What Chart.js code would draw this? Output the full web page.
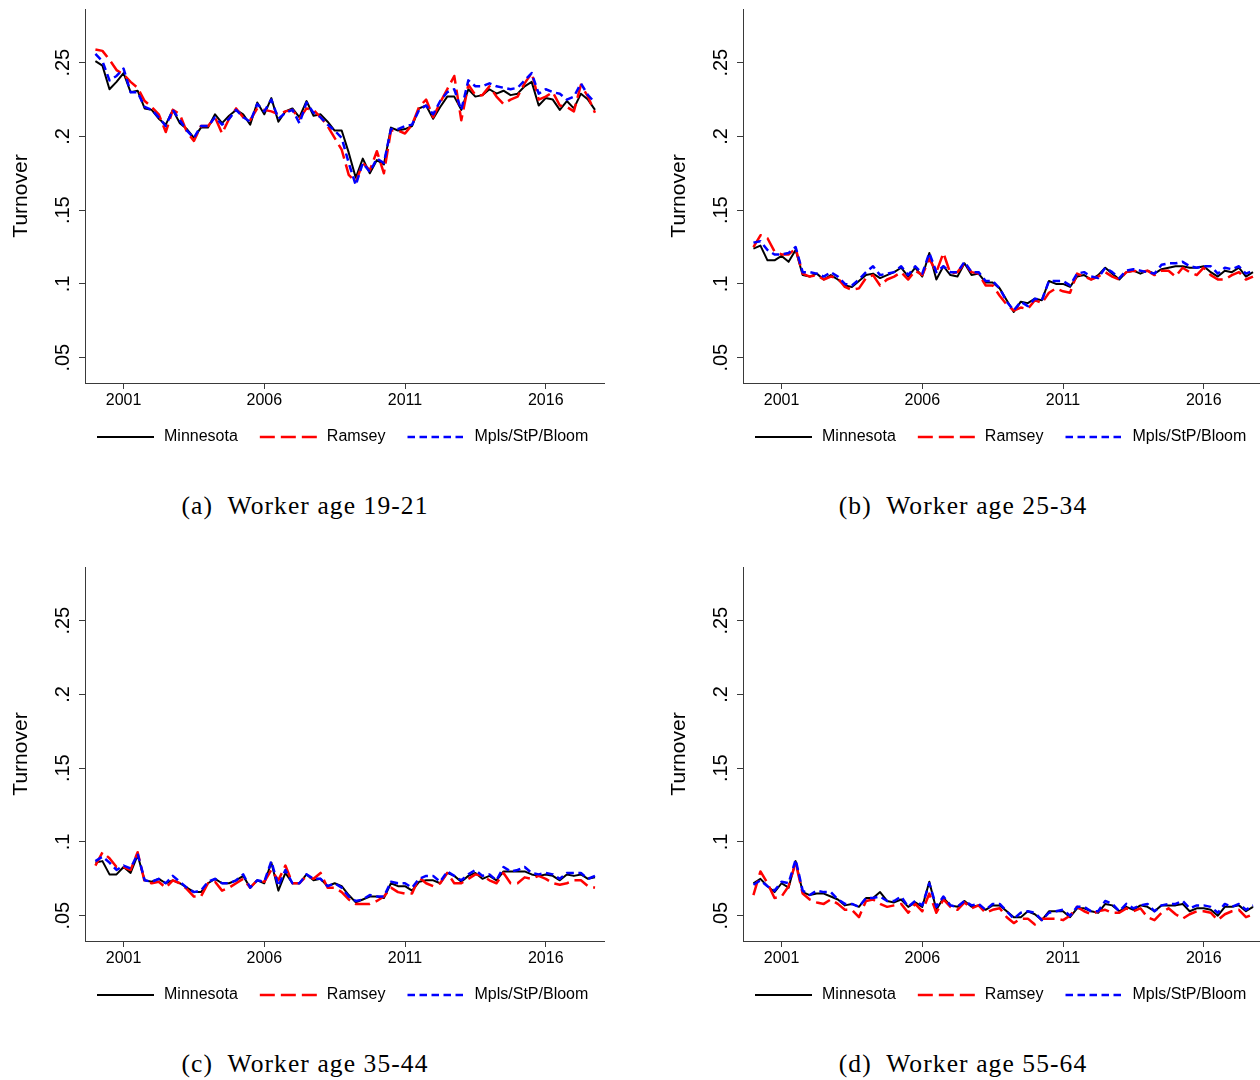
<!DOCTYPE html>
<html>
<head>
<meta charset="utf-8">
<script src="https://cdn.jsdelivr.net/npm/chart.js@4.4.1/dist/chart.umd.min.js"></script>
<style>
  html, body { margin: 0; padding: 0; background: #fff; }
  body { width: 1260px; height: 1080px; position: relative; overflow: hidden; }
  .panel { position: absolute; width: 620px; height: 470px; }
  .panel canvas { display: block; }
  .caption {
    position: absolute; width: 620px; text-align: center;
    font-family: "Liberation Serif", "Times New Roman", serif;
    font-size: 25.5px; line-height: 30px; letter-spacing: 1.1px; color: #000;
  }
</style>
</head>
<body>
<div class="panel" style="left:0px;top:0px"><canvas id="chartA" width="620" height="470"></canvas></div>
<div class="panel" style="left:658px;top:0px"><canvas id="chartB" width="620" height="470"></canvas></div>
<div class="panel" style="left:0px;top:558px"><canvas id="chartC" width="620" height="470"></canvas></div>
<div class="panel" style="left:658px;top:558px"><canvas id="chartD" width="620" height="470"></canvas></div>

<div class="caption" style="left:-5px;top:491px">(a)&nbsp; Worker age 19-21</div>
<div class="caption" style="left:653px;top:491px">(b)&nbsp; Worker age 25-34</div>
<div class="caption" style="left:-5px;top:1049px">(c)&nbsp; Worker age 35-44</div>
<div class="caption" style="left:653px;top:1049px">(d)&nbsp; Worker age 55-64</div>

<script>
// quarterly observations, 2000q1 .. 2017q4
const quarters = [];
for (let yr = 2000; yr <= 2017; yr++) {
    for (let q = 0; q < 4; q++) quarters.push(yr + q / 4);
}

const xTickYears = [2001, 2006, 2011, 2016];
const yTickValues = [0.05, 0.1, 0.15, 0.2, 0.25];
const yTickLabels = ['.05', '.1', '.15', '.2', '.25'];
const seriesNames = ['Minnesota', 'Ramsey', 'Mpls/StP/Bloom'];

// (a) Worker age 19-21
const mnA = [
    .251, .248, .232, .237, .243, .230, .231, .219, .218, .212, .208, .218,
    .209, .205, .199, .206, .206, .215, .209, .214, .218, .215, .208, .223,
    .215, .226, .210, .217, .219, .213, .224, .214, .215, .210, .204, .204,
    .189, .172, .185, .175, .184, .181, .206, .204, .205, .207, .219, .221,
    .212, .220, .227, .227, .218, .232, .227, .228, .232, .229, .231, .228,
    .229, .234, .237, .221, .226, .225, .218, .224, .219, .229, .225, .218
];
const ramA = [
    .259, .258, .252, .245, .242, .237, .233, .224, .220, .215, .203, .218,
    .215, .203, .197, .207, .207, .213, .202, .212, .219, .213, .211, .219,
    .218, .217, .215, .217, .218, .212, .219, .218, .213, .207, .199, .191,
    .174, .169, .182, .177, .190, .175, .204, .204, .202, .208, .220, .225,
    .213, .223, .232, .241, .211, .235, .228, .228, .234, .227, .222, .225,
    .227, .236, .243, .225, .227, .230, .221, .220, .217, .235, .227, .216
];
const mspA = [
    .256, .251, .238, .241, .246, .230, .230, .220, .218, .213, .207, .218,
    .211, .204, .199, .207, .207, .213, .208, .212, .218, .213, .210, .222,
    .217, .225, .212, .216, .218, .209, .223, .216, .213, .208, .204, .199,
    .182, .167, .182, .176, .185, .182, .205, .205, .207, .208, .218, .221,
    .215, .224, .230, .232, .218, .238, .234, .234, .236, .234, .233, .232,
    .233, .238, .243, .229, .232, .230, .229, .225, .227, .236, .228, .223
];

// (b) Worker age 25-34
const mnB = [
    .124, .126, .116, .116, .119, .115, .123, .106, .105, .107, .103, .106,
    .103, .099, .098, .102, .106, .107, .104, .106, .108, .111, .105, .111,
    .105, .121, .103, .112, .106, .105, .114, .106, .107, .101, .101, .097,
    .089, .081, .088, .087, .090, .089, .102, .100, .100, .098, .105, .106,
    .103, .106, .111, .107, .103, .108, .109, .107, .109, .107, .110, .111,
    .112, .112, .111, .111, .112, .108, .105, .109, .108, .111, .105, .108
];
const ramB = [
    .125, .133, .131, .122, .120, .120, .124, .107, .105, .106, .103, .105,
    .104, .098, .096, .097, .104, .106, .099, .103, .105, .108, .103, .109,
    .106, .117, .108, .121, .107, .108, .114, .108, .107, .099, .099, .092,
    .086, .082, .084, .083, .089, .087, .094, .097, .095, .094, .107, .105,
    .103, .105, .108, .105, .103, .108, .109, .108, .109, .106, .109, .109,
    .105, .111, .108, .106, .111, .106, .103, .103, .106, .108, .103, .105
];
const mspB = [
    .128, .129, .123, .120, .120, .121, .125, .108, .108, .107, .105, .108,
    .105, .100, .099, .103, .108, .112, .106, .107, .108, .112, .106, .112,
    .107, .121, .108, .112, .108, .108, .115, .108, .108, .102, .102, .097,
    .088, .082, .088, .085, .090, .089, .102, .102, .102, .099, .107, .108,
    .105, .104, .111, .108, .104, .109, .110, .109, .108, .107, .113, .114,
    .114, .115, .112, .111, .112, .112, .107, .111, .110, .112, .107, .109
];

// (c) Worker age 35-44
const mnC = [
    .086, .087, .078, .078, .083, .079, .091, .074, .073, .075, .072, .074,
    .072, .069, .066, .066, .072, .075, .072, .072, .074, .077, .069, .074,
    .072, .086, .067, .079, .072, .072, .078, .074, .075, .070, .072, .070,
    .064, .059, .061, .063, .063, .062, .072, .070, .070, .067, .073, .074,
    .074, .072, .079, .077, .073, .077, .079, .075, .077, .074, .080, .080,
    .080, .080, .078, .077, .078, .077, .074, .078, .077, .078, .075, .076
];
const ramC = [
    .084, .093, .089, .083, .083, .081, .093, .073, .072, .073, .069, .074,
    .072, .068, .063, .063, .072, .073, .067, .069, .072, .075, .069, .074,
    .073, .081, .074, .084, .072, .072, .077, .075, .079, .069, .069, .066,
    .061, .058, .058, .058, .060, .063, .069, .066, .065, .065, .076, .072,
    .070, .072, .079, .072, .072, .075, .078, .077, .074, .072, .079, .072,
    .072, .076, .075, .077, .075, .072, .071, .072, .074, .074, .070, .069
];
const mspC = [
    .087, .090, .086, .081, .084, .082, .092, .074, .073, .075, .072, .077,
    .073, .069, .066, .067, .073, .075, .072, .072, .074, .078, .069, .074,
    .073, .087, .070, .081, .072, .072, .078, .075, .075, .070, .072, .069,
    .063, .060, .061, .064, .063, .063, .073, .072, .072, .069, .075, .077,
    .077, .073, .080, .077, .074, .078, .081, .077, .078, .074, .083, .080,
    .081, .083, .079, .078, .079, .078, .075, .079, .079, .079, .075, .077
];

// (d) Worker age 55-64
const mnD = [
    .072, .075, .070, .066, .072, .069, .087, .066, .064, .065, .065, .063,
    .061, .057, .058, .056, .062, .062, .066, .060, .059, .061, .056, .059,
    .056, .073, .054, .062, .057, .056, .060, .056, .057, .054, .057, .057,
    .053, .049, .049, .053, .051, .047, .053, .053, .053, .049, .055, .055,
    .053, .052, .058, .057, .053, .056, .054, .057, .056, .053, .057, .057,
    .057, .058, .053, .055, .055, .054, .050, .056, .056, .057, .053, .056
];
const ramD = [
    .064, .080, .072, .062, .063, .070, .086, .065, .061, .059, .058, .061,
    .058, .054, .054, .049, .060, .061, .058, .056, .057, .058, .052, .058,
    .053, .065, .052, .061, .056, .054, .059, .055, .057, .052, .054, .055,
    .049, .045, .048, .048, .044, .048, .048, .048, .047, .050, .056, .053,
    .051, .053, .054, .052, .052, .055, .053, .055, .049, .047, .052, .055,
    .051, .048, .051, .053, .053, .052, .047, .051, .053, .054, .049, .051
];
const mspD = [
    .071, .074, .070, .067, .073, .072, .088, .067, .064, .067, .066, .066,
    .061, .058, .058, .056, .062, .062, .063, .060, .060, .063, .056, .060,
    .057, .072, .056, .063, .057, .056, .060, .057, .058, .054, .058, .058,
    .053, .048, .052, .053, .052, .047, .052, .053, .054, .050, .056, .056,
    .053, .053, .060, .058, .053, .058, .055, .057, .058, .053, .057, .058,
    .058, .060, .055, .057, .057, .056, .052, .058, .056, .058, .054, .057
];

const FONT = '"Liberation Sans", Arial, Helvetica, sans-serif';
const AXIS = '#3a3a3a';
Chart.defaults.font.family = FONT;
Chart.defaults.color = '#000';

// Stata-like legend row under the x axis
const bottomLegend = {
    id: 'bottomLegend',
    afterDraw(chart) {
        const {ctx, chartArea} = chart;
        const y = chartArea.bottom + 54;
        let x = chartArea.left + 12;
        ctx.save();
        ctx.font = '16px ' + FONT;
        ctx.textBaseline = 'middle';
        ctx.fillStyle = '#000';
        chart.data.datasets.forEach(ds => {
            ctx.beginPath();
            ctx.setLineDash(ds.borderDash || []);
            ctx.lineWidth = ds.borderWidth;
            ctx.strokeStyle = ds.borderColor;
            ctx.moveTo(x, y);
            ctx.lineTo(x + 57, y);
            ctx.stroke();
            x += 57 + 10;
            ctx.setLineDash([]);
            ctx.fillText(ds.label, x, y);
            x += ctx.measureText(ds.label).width + 22;
        });
        ctx.restore();
    }
};

function makePanel(id, mn, ram, msp) {
    const ctx = document.getElementById(id).getContext('2d');
    return new Chart(ctx, {
        type: 'line',
        data: {
            labels: quarters,
            datasets: [
                { label: seriesNames[0], data: mn, borderColor: '#000000', borderWidth: 2, order: 3 },
                { label: seriesNames[1], data: ram, borderColor: '#ff0000', borderWidth: 2.5, borderDash: [15, 6], order: 2 },
                { label: seriesNames[2], data: msp, borderColor: '#0000ff', borderWidth: 2.5, borderDash: [7.5, 4.5], order: 1 }
            ]
        },
        options: {
            responsive: false,
            animation: false,
            devicePixelRatio: 1,
            elements: {
                point: { radius: 0 },
                line: { tension: 0, borderJoinStyle: 'round', fill: false }
            },
            layout: { padding: { left: 0, top: 9, right: 16, bottom: 65 } },
            plugins: {
                legend: { display: false },
                tooltip: { enabled: false }
            },
            scales: {
                x: {
                    type: 'linear',
                    min: 1999.63,
                    max: 2018.07,
                    afterBuildTicks: s => { s.ticks = xTickYears.map(v => ({ value: v })); },
                    afterFit: s => { s.height = 22; s.paddingLeft = 0; s.paddingRight = 0; },
                    grid: { drawOnChartArea: false, tickLength: 6, color: AXIS },
                    border: { color: AXIS, width: 1 },
                    ticks: {
                        autoSkip: false, maxRotation: 0, padding: 2,
                        font: { size: 16 }, color: '#000',
                        callback: v => String(v)
                    }
                },
                y: {
                    min: 0.03285,
                    max: 0.2864,
                    afterBuildTicks: s => { s.ticks = yTickValues.map(v => ({ value: v })); },
                    afterFit: s => { s.width = 85; s.paddingTop = 0; s.paddingBottom = 0; },
                    grid: { drawOnChartArea: false, tickLength: 6, color: AXIS },
                    border: { color: AXIS, width: 1 },
                    ticks: {
                        minRotation: 90, maxRotation: 90, crossAlign: 'center', padding: 2,
                        font: { size: 20 }, color: '#000',
                        callback: (v, i) => yTickLabels[i]
                    },
                    title: {
                        display: true, text: 'Turnover', color: '#000',
                        font: { size: 21, lineHeight: 1 }, padding: { top: 11, bottom: 0 }
                    }
                }
            }
        },
        plugins: [bottomLegend]
    });
}

makePanel('chartA', mnA, ramA, mspA);
makePanel('chartB', mnB, ramB, mspB);
makePanel('chartC', mnC, ramC, mspC);
makePanel('chartD', mnD, ramD, mspD);
</script>
</body>
</html>
